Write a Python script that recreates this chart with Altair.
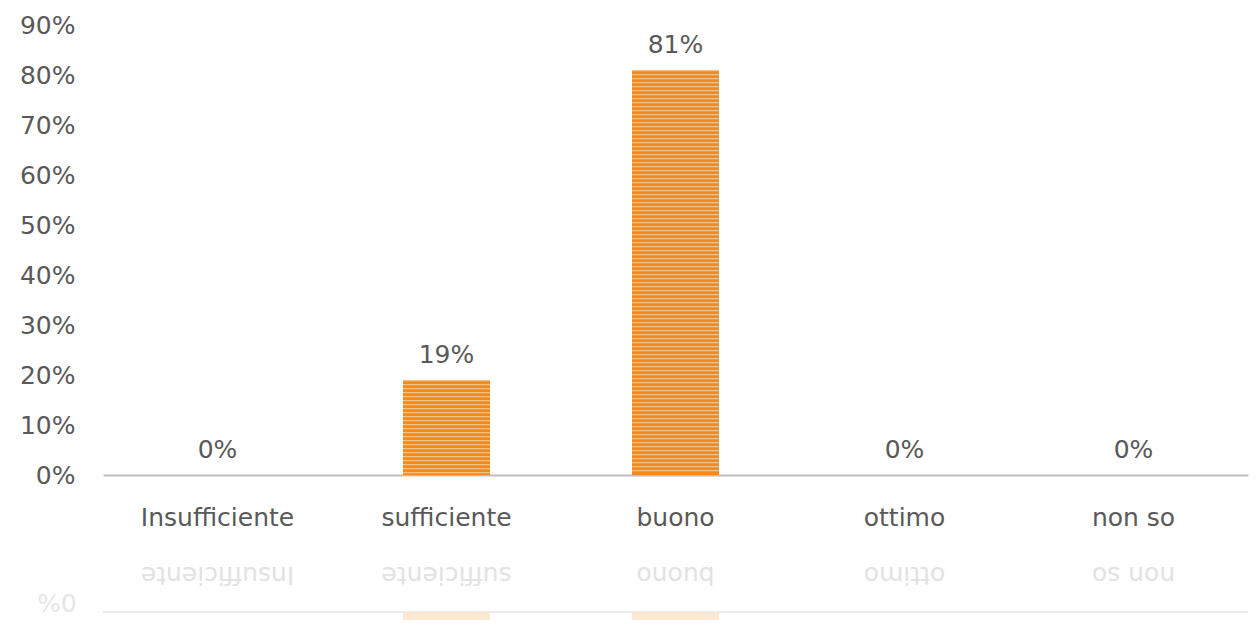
import altair as alt
import pandas as pd

categories = ["Insufficiente", "sufficiente", "buono", "ottimo", "non so"]
values = [0, 19, 81, 0, 0]
y_ticks = [0, 10, 20, 30, 40, 50, 60, 70, 80, 90]

FONT = "DejaVu Sans"
FS = 25
TEXT = "#595959"
ORANGE = "#F28A1E"
MIRROR = -13.7  # reflection axis (in % units) below the baseline

df = pd.DataFrame({"cat": categories, "value": values})

x_enc = alt.X(
    "cat:N",
    sort=categories,
    scale=alt.Scale(paddingInner=0.62, paddingOuter=0.31),
    axis=alt.Axis(
        title=None, orient="bottom", offset=-145, domainColor="#bfbfbf",
        domainWidth=2, ticks=False, grid=False, labelFontSize=FS,
        labelColor=TEXT, labelFont=FONT, labelPadding=30, labelAngle=0,
    ),
)
y_scale = alt.Scale(domain=[-29, 90], nice=False, zero=False)
y_axis = alt.Axis(
    title=None, values=y_ticks, labelExpr="datum.value + '%'", domain=False,
    ticks=False, grid=False, labelFontSize=FS, labelColor=TEXT,
    labelFont=FONT, labelPadding=28,
)

base = alt.Chart(df)

bars = base.transform_filter("datum.value > 0").mark_bar(color=ORANGE).encode(
    x=x_enc,
    y=alt.Y("value:Q", scale=y_scale, axis=y_axis),
    y2=alt.datum(0),
)

stripes = (
    base.transform_filter("datum.value > 0")
    .transform_calculate(seq="sequence(datum.value - 0.25, 0, -0.8)")
    .transform_flatten(["seq"])
    .transform_calculate(seq2="datum.seq + 0.25")
    .mark_bar(color="white", opacity=0.45)
    .encode(x=x_enc, y=alt.Y("seq:Q", scale=y_scale, axis=y_axis), y2="seq2:Q")
)

labels = (
    base.transform_calculate(lab="datum.value + '%'")
    .mark_text(dy=-17, baseline="alphabetic", fontSize=FS, color=TEXT, font=FONT)
    .encode(x=x_enc, y=alt.Y("value:Q", scale=y_scale, axis=y_axis), text="lab:N")
)

# faint reflection below the chart
refl_line = (
    base.transform_filter("datum.cat == 'buono'")
    .transform_calculate(r="%f * 2" % MIRROR)
    .mark_rule(color="#ececec", strokeWidth=2)
    .encode(y=alt.Y("r:Q", scale=y_scale, axis=y_axis))
)

refl_bars = (
    base.transform_filter("datum.value > 0")
    .transform_calculate(r0="%f * 2" % MIRROR, r1="%f * 2 - datum.value" % MIRROR)
    .mark_bar(color="#fde8d4", clip=True)
    .encode(x=x_enc, y=alt.Y("r0:Q", scale=y_scale, axis=y_axis), y2="r1:Q")
)

refl_text = base.mark_text(
    angle=180, fontSize=FS, color="#e2e2e2", font=FONT, baseline="middle"
).encode(x=x_enc, y=alt.value(550), text="cat:N")

refl_zero = (
    base.transform_filter("datum.cat == 'buono'")
    .transform_calculate(t="'0%'")
    .mark_text(angle=180, fontSize=FS, color="#e6e6e6", font=FONT, baseline="middle")
    .encode(x=alt.value(-46), y=alt.value(577), text="t:N")
)

chart = (
    alt.layer(refl_line, refl_bars, refl_text, refl_zero, bars, stripes, labels)
    .properties(
        width=1145, height=595,
        padding={"left": 95, "top": 17, "right": 1, "bottom": 0},
        autosize=alt.AutoSizeParams(type="none"),
        background="white",
    )
    .configure_view(stroke=None)
)

chart.save("out.html", embed_options={"renderer": "svg", "actions": False})
